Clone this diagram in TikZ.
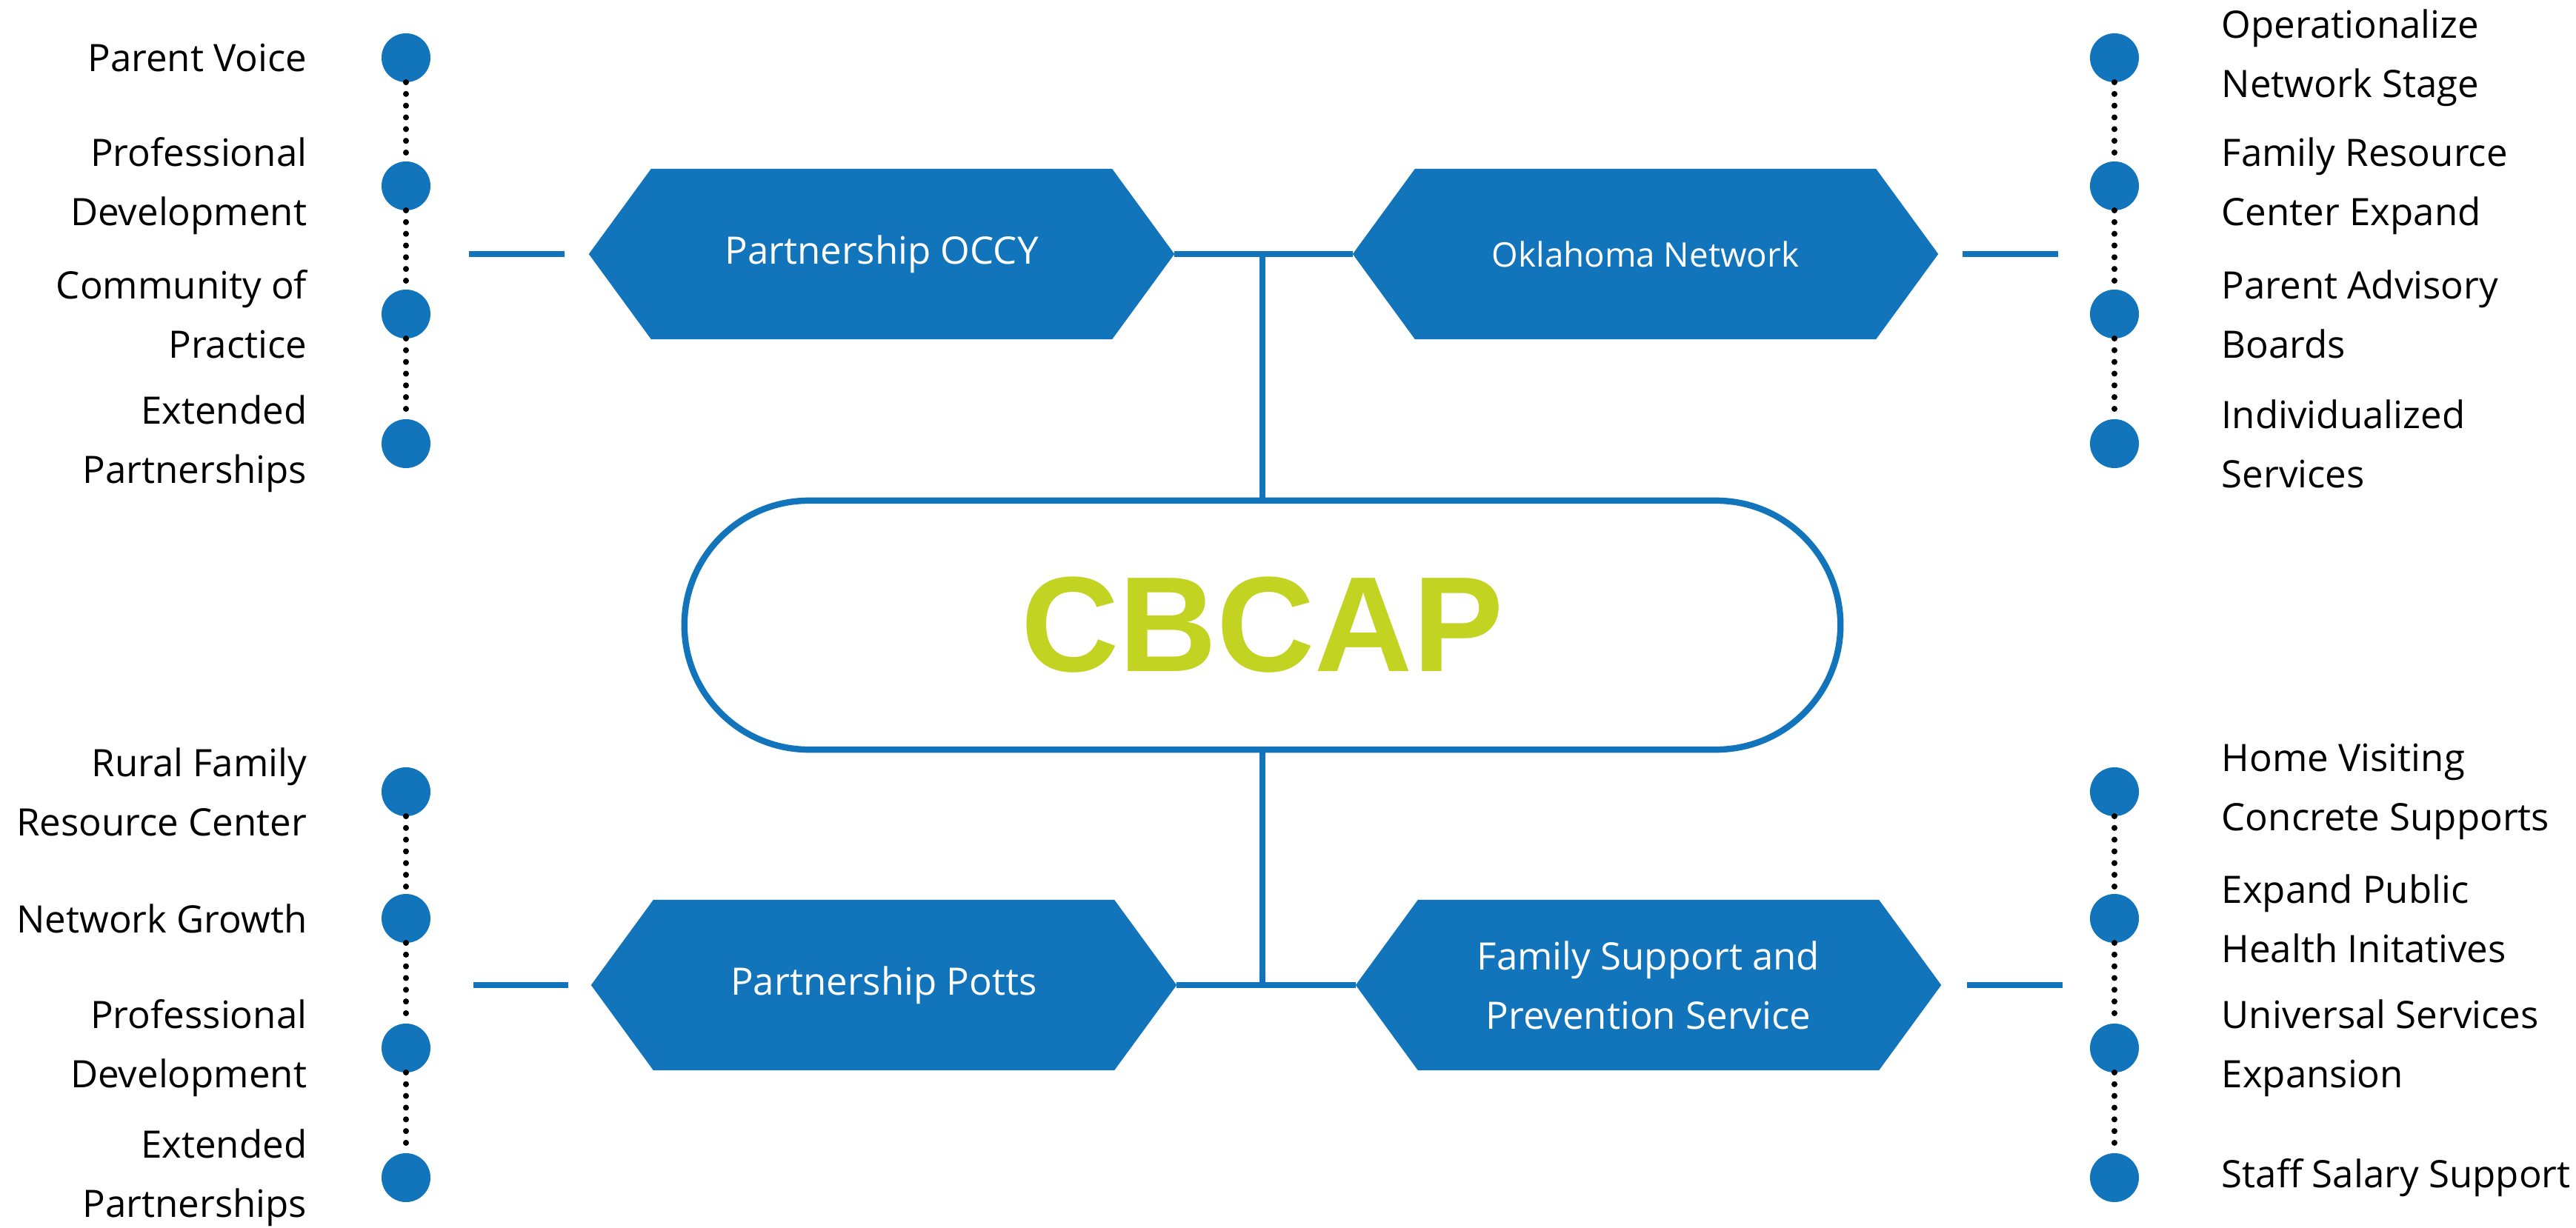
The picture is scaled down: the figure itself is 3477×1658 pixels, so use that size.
\documentclass[tikz,border=0pt]{standalone}
\usepackage{fontspec}
\setmainfont{Open Sans}
\newfontfamily\headfont{Liberation Sans}
\usetikzlibrary{shapes.misc,backgrounds}
\definecolor{cbblue}{RGB}{18,117,188}
\definecolor{cbgreen}{RGB}{195,211,33}

\begin{document}
\begin{tikzpicture}[x=0.01cm, y=-0.01cm,
    hexbox/.style={minimum width=7.9cm, minimum height=2.3cm, inner sep=0pt, outer sep=0pt,
        text=white, align=center, font=\fontsize{14.5}{22.8}\selectfont},
    dot/.style={circle, fill=cbblue, minimum size=0.66cm, inner sep=0pt, outer sep=0pt},
    lbl/.style={inner sep=0pt, font=\fontsize{14.5}{22.8}\selectfont},
    link/.style={cbblue, line width=2.2pt},
    dotline/.style={line width=2.3pt, line cap=round, dash pattern=on 0pt off 4.5pt}]
    \useasboundingbox (0,0) rectangle (3477,1658);

    % centre
    \node[rounded rectangle, draw=cbblue, line width=2.4pt, fill=white,
        minimum width=15.83cm, minimum height=3.36cm, text=cbgreen,
        font=\headfont\bfseries\fontsize{52}{60}\selectfont] (cbcap) at (1704,844) {CBCAP};

    % the four partners
    \node[hexbox] (occy) at (1190,343) {Partnership OCCY};
    \node[hexbox, font=\fontsize{13}{22.8}\selectfont] (okn) at (2221,343) {Oklahoma Network};
    \node[hexbox] (potts) at (1193,1330) {Partnership Potts};
    \node[hexbox] (fsps) at (2225,1330) {Family Support and\\Prevention Service};
    \begin{scope}[on background layer]
    \foreach \n in {occy,okn,potts,fsps}{
        \fill[cbblue] (\n.west) -- ([xshift=0.84cm]\n.north west) -- ([xshift=-0.84cm]\n.north east)
            -- (\n.east) -- ([xshift=-0.84cm]\n.south east) -- ([xshift=0.84cm]\n.south west) -- cycle;
    }
    \end{scope}

    \draw[link] (occy.east) -- (okn.west);
    \draw[link] (cbcap.north) -- (cbcap.north |- occy.east);
    \draw[link] (potts.east) -- (fsps.west);
    \draw[link] (cbcap.south) -- (cbcap.south |- potts.east);

    \draw[link] ([xshift=-0.33cm]occy.west) -- ([xshift=-1.62cm]occy.west);
    \draw[link] ([xshift=0.33cm]okn.east) -- ([xshift=1.62cm]okn.east);
    \draw[link] ([xshift=-0.31cm]potts.west) -- ([xshift=-1.59cm]potts.west);
    \draw[link] ([xshift=0.35cm]fsps.east) -- ([xshift=1.64cm]fsps.east);

    % timelines
    \foreach \y/\t [count=\i] in {78/{Parent Voice}, 251/{Professional\\Development},
        424/{Community of\\Practice}, 599/{Extended\\Partnerships}}{
        \node[dot] (tl\i) at (548,\y) {};
        \node[lbl, anchor=east, align=right] (tltext\i) at (415,\y) {\t};
    }
    \foreach \y/\t [count=\i] in {78/{Operationalize\\Network Stage}, 251/{Family Resource\\Center Expand},
        424/{Parent Advisory\\Boards}, 599/{Individualized\\Services}}{
        \node[dot] (tr\i) at (2854,\y) {};
        \node[lbl, anchor=west, align=left] (trtext\i) at (2998,\y) {\t};
    }
    \foreach \y/\t [count=\i] in {1069/{Rural Family\\Resource Center}, 1240/{Network Growth},
        1415/{Professional\\Development}, 1590/{Extended\\Partnerships}}{
        \node[dot] (bl\i) at (548,\y) {};
        \node[lbl, anchor=east, align=right] (bltext\i) at (415,\y) {\t};
    }
    \foreach \y/\t [count=\i] in {1069/{Home Visiting\\Concrete Supports}, 1240/{Expand Public\\Health Initatives},
        1415/{Universal Services\\Expansion}, 1590/{Staff Salary Support}}{
        \node[dot] (br\i) at (2854,\y) {};
        \node[lbl, anchor=west, align=left] (brtext\i) at (2998,\y) {\t};
    }
    \foreach \g in {tl,tr,bl,br}{
        \foreach \i/\j in {1/2,2/3,3/4}{
            \draw[dotline] (\g\i) -- (\g\j);
        }
    }
\end{tikzpicture}
\end{document}
